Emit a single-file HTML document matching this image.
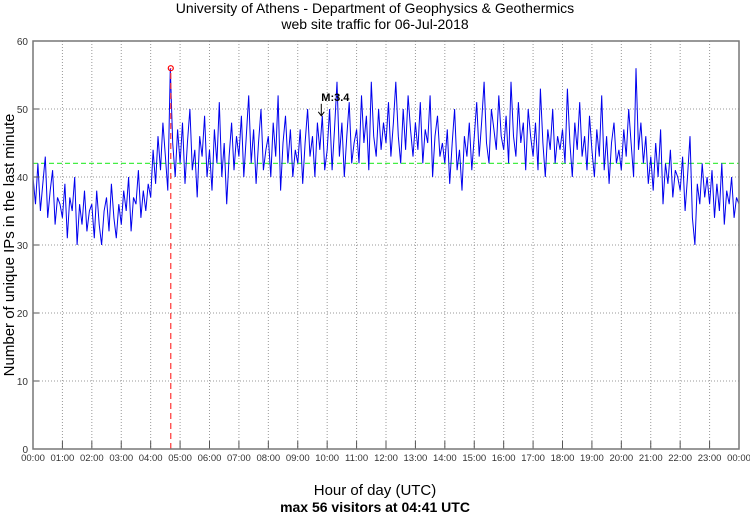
<!DOCTYPE html>
<html><head><meta charset="utf-8"><style>
html,body{margin:0;padding:0;background:#fff;}
svg{display:block;font-family:"Liberation Sans",sans-serif;}
</style></head><body>
<svg id="chart" width="750" height="515" viewBox="0 0 750 515">
<text x="375" y="13" text-anchor="middle" font-size="14">University of Athens - Department of Geophysics &amp; Geothermics</text>
<text x="375" y="29" text-anchor="middle" font-size="14">web site traffic for 06-Jul-2018</text>
<text transform="translate(14,245) rotate(-90)" text-anchor="middle" font-size="15">Number of unique IPs in the last minute</text>
<text x="375" y="495" text-anchor="middle" font-size="15">Hour of day (UTC)</text>
<text x="375" y="512" text-anchor="middle" font-size="14" font-weight="bold">max 56 visitors at 04:41 UTC</text>
<g id="grid"></g>
<g id="series"></g>
<g id="axes"></g>
</svg>
<script>
const yTicks = [0,10,20,30,40,50,60];
const xTickLabels = ["00:00","01:00","02:00","03:00","04:00","05:00","06:00","07:00","08:00","09:00","10:00","11:00","12:00","13:00","14:00","15:00","16:00","17:00","18:00","19:00","20:00","21:00","22:00","23:00","00:00"];
const meanValue = 42;
const maxValue = 56;
const maxMinute = 281;
const markerLabel = "M:3.4";
const markerMinute = 588;
const markerValue = 49;
const visitors = [
40,36,42,35,39,43,34,38,41,33,37,36,
34,39,31,37,35,40,30,36,33,38,32,35,
36,31,38,33,30,35,37,32,39,34,31,36,
33,38,35,40,32,37,36,41,34,38,35,39,
37,44,39,46,41,48,43,38,56,45,40,47,
42,48,39,45,50,41,44,37,46,43,49,40,
44,38,47,42,51,40,45,36,43,48,41,46,
43,49,40,46,52,42,47,39,45,50,41,44,
46,40,48,43,52,38,45,49,42,47,40,44,
42,47,39,45,50,43,46,40,48,44,49,41,
44,50,41,47,54,43,48,40,46,51,42,45,
47,42,52,45,49,41,54,46,43,50,44,48,
45,51,43,48,54,46,42,50,44,52,47,43,
48,44,51,42,47,45,52,40,46,49,43,45,
42,47,39,45,50,41,44,38,46,43,48,41,
46,51,43,48,54,45,42,50,47,44,52,46,
44,49,42,54,46,43,51,45,48,41,50,46,
43,48,41,53,45,40,47,44,50,42,46,44,
47,42,53,45,40,48,44,51,43,46,41,49,
44,40,47,43,52,41,46,39,45,48,42,44,
41,47,43,50,45,40,56,44,48,42,46,39,
43,38,45,40,47,36,42,39,44,37,41,40,
38,43,35,40,46,34,30,39,36,42,37,40,
36,41,34,39,35,42,33,38,36,40,34,37,36];
const stepMinutes = 5;

const X0=33, X1=739, Y0=449, Y60=41;
const xs = m => X0 + (X1-X0)*m/1440;
const ys = v => Y0 - (Y0-Y60)*v/60;
const NS="http://www.w3.org/2000/svg";
function mk(tag, attrs, parent){const e=document.createElementNS(NS,tag);for(const k in attrs)e.setAttribute(k,attrs[k]);parent.appendChild(e);return e;}
const grid=document.getElementById('grid'), series=document.getElementById('series'), axes=document.getElementById('axes');

yTicks.forEach(v=>{
  if(v>0 && v<60){
    const l=mk('line',{x1:X0,x2:X1,y1:ys(v),y2:ys(v),stroke:'#999','stroke-width':1,'stroke-dasharray':'1,2'},grid);
    
    
  }
  const t=mk('text',{x:X0-5,y:ys(v)+4,'text-anchor':'end','font-size':10,fill:'#333'},axes);
  t.textContent=v;
  
  
  const tk=mk('line',{x1:X0,x2:X0+6,y1:ys(v),y2:ys(v),stroke:'#555','stroke-width':1},axes);
  
  
});
xTickLabels.forEach((lab,i)=>{
  const x=xs(i*60);
  if(i>0 && i<24){
    const g=mk('line',{x1:x,x2:x,y1:Y60,y2:Y0,stroke:'#999','stroke-width':1,'stroke-dasharray':'1,2'},grid);
    
    
  }
  const tk=mk('line',{x1:x,x2:x,y1:Y0,y2:Y0-8,stroke:'#555','stroke-width':1},axes);
  
  
  const t=mk('text',{x:x,y:Y0+12,'text-anchor':'middle','font-size':9.5,fill:'#333'},axes);
  t.textContent=lab;
  
  
});
const mean=mk('line',{x1:X0,x2:X1,y1:ys(meanValue),y2:ys(meanValue),stroke:'#44ee44','stroke-width':1.2,'stroke-dasharray':'5,3'},grid);



const pts=visitors.map((v,i)=>xs(i*stepMinutes).toFixed(1)+','+ys(v).toFixed(1)).join(' ');
const pl=mk('polyline',{points:pts,fill:'none',stroke:'#0000ee','stroke-width':1},series);



const mx=xs(maxMinute);
const vl=mk('line',{x1:mx,x2:mx,y1:Y0,y2:ys(maxValue),stroke:'#ff3333','stroke-width':1.2,'stroke-dasharray':'6,4'},series);


const mc=mk('circle',{cx:mx,cy:ys(maxValue),r:2.5,fill:'none',stroke:'#ff0000','stroke-width':1.2},series);



const ax=xs(markerMinute);
const ar=mk('line',{x1:ax,x2:ax,y1:ys(markerValue)-12,y2:ys(markerValue),stroke:'#000','stroke-width':1},series);


const ah=mk('path',{d:`M${ax-3},${ys(markerValue)-4} L${ax},${ys(markerValue)} L${ax+3},${ys(markerValue)-4}`,fill:'none',stroke:'#000','stroke-width':1},series);


const et=mk('text',{x:ax,y:ys(markerValue)-15,'font-size':11,'font-weight':'bold'},series);
et.textContent=markerLabel;



const fr=mk('rect',{x:X0,y:Y60,width:X1-X0,height:Y0-Y60,fill:'none',stroke:'#777','stroke-width':1.5},axes);


</script>
</body></html>
